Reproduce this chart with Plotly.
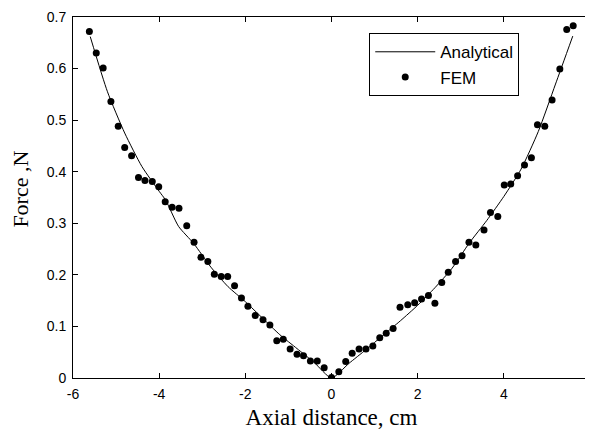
import plotly.graph_objects as go

# FEM data
fem_x = [-5.62, -5.46, -5.30, -5.12, -4.95, -4.80, -4.64, -4.48, -4.33, -4.16, -4.01, -3.86,
         -3.70, -3.54, -3.36, -3.19, -3.03, -2.87, -2.72, -2.56, -2.41, -2.25, -2.09, -1.94,
         -1.77, -1.59, -1.43, -1.27, -1.12, -0.96, -0.80, -0.65, -0.49, -0.33, -0.17, 0.00,
         0.17, 0.33, 0.48, 0.64, 0.80, 0.96, 1.12, 1.27, 1.43, 1.59, 1.77, 1.93, 2.09, 2.25,
         2.40, 2.56, 2.71, 2.88, 3.03, 3.19, 3.35, 3.54, 3.69, 3.86, 4.01, 4.16, 4.32, 4.48,
         4.64, 4.78, 4.95, 5.12, 5.30, 5.46, 5.61]
fem_y = [0.672, 0.630, 0.601, 0.536, 0.488, 0.447, 0.431, 0.389, 0.383, 0.381, 0.371, 0.342,
         0.331, 0.329, 0.295, 0.263, 0.234, 0.226, 0.201, 0.197, 0.197, 0.179, 0.155, 0.139,
         0.121, 0.113, 0.103, 0.072, 0.075, 0.056, 0.046, 0.043, 0.033, 0.033, 0.020, 0.001,
         0.012, 0.032, 0.048, 0.056, 0.056, 0.062, 0.078, 0.087, 0.096, 0.137, 0.142, 0.146,
         0.153, 0.160, 0.145, 0.185, 0.205, 0.226, 0.237, 0.263, 0.258, 0.287, 0.321, 0.313,
         0.374, 0.376, 0.392, 0.413, 0.427, 0.491, 0.488, 0.539, 0.599, 0.676, 0.683]

# Analytical curve
ana_x = [-5.6, -5.2, -4.8, -4.4, -4.0, -3.85, -3.55, -3.2, -2.8, -2.4, -2.0, -1.6, -1.2,
         -0.8, -0.4, 0.0, 0.4, 0.8, 1.2, 1.6, 2.0, 2.4, 2.8, 3.2, 3.6, 4.0, 4.4, 4.8, 5.2, 5.6]
ana_y = [0.662, 0.555, 0.475, 0.410, 0.362, 0.345, 0.294, 0.261, 0.215, 0.177, 0.148, 0.116,
         0.084, 0.057, 0.030, 0.000, 0.028, 0.055, 0.083, 0.111, 0.141, 0.175, 0.213, 0.262,
         0.305, 0.352, 0.405, 0.478, 0.570, 0.663]

x_ticks = [-6, -4, -2, 0, 2, 4, 6]
x_tick_text = ["-6", "-4", "-2", "0", "2", "4", "6"]
y_ticks = [0, 0.1, 0.2, 0.3, 0.4, 0.5, 0.6, 0.7]
y_tick_text = ["0", "0.1", "0.2", "0.3", "0.4", "0.5", "0.6", "0.7"]

fig = go.Figure()
fig.add_trace(go.Scatter(x=ana_x, y=ana_y, mode="lines", name="Analytical",
                         line=dict(color="black", width=1, shape="spline", smoothing=0.6)))
fig.add_trace(go.Scatter(x=fem_x, y=fem_y, mode="markers", name="FEM",
                         marker=dict(color="black", size=7)))

axis_common = dict(showline=True, linecolor="black", linewidth=1, mirror="ticks",
                   ticks="inside", ticklen=5, tickcolor="black", showgrid=False,
                   zeroline=False, automargin=False, ticklabeloverflow="allow",
                   tickfont=dict(family="Liberation Sans", size=14, color="black"))

# The page body has an 8px margin, so the figure is sized to fit the window after it.
fig.update_layout(
    width=585, height=425,
    margin=dict(l=65, r=3, t=9, b=55),
    paper_bgcolor="white", plot_bgcolor="white",
    xaxis=dict(range=[-6, 6], tickvals=x_ticks, ticktext=x_tick_text, ticklabelstandoff=3,
               title=dict(text="Axial distance, cm", standoff=8,
                          font=dict(family="Liberation Serif", size=23, color="black")),
               **axis_common),
    yaxis=dict(range=[0, 0.7], tickvals=y_ticks, ticktext=y_tick_text, ticklabelstandoff=3,
               **axis_common),
    annotations=[dict(text="Force ,N", textangle=-90, xref="paper", yref="paper",
                      x=-0.101, y=0.524, xanchor="center", yanchor="middle", showarrow=False,
                      font=dict(family="Liberation Serif", size=22, color="black"))],
    legend=dict(x=0.573, y=0.955, xanchor="left", yanchor="top", itemwidth=60,
                bordercolor="black", borderwidth=1, bgcolor="white",
                font=dict(family="Liberation Sans", size=17, color="black")),
    showlegend=True,
)

fig.write_html("out.html")
